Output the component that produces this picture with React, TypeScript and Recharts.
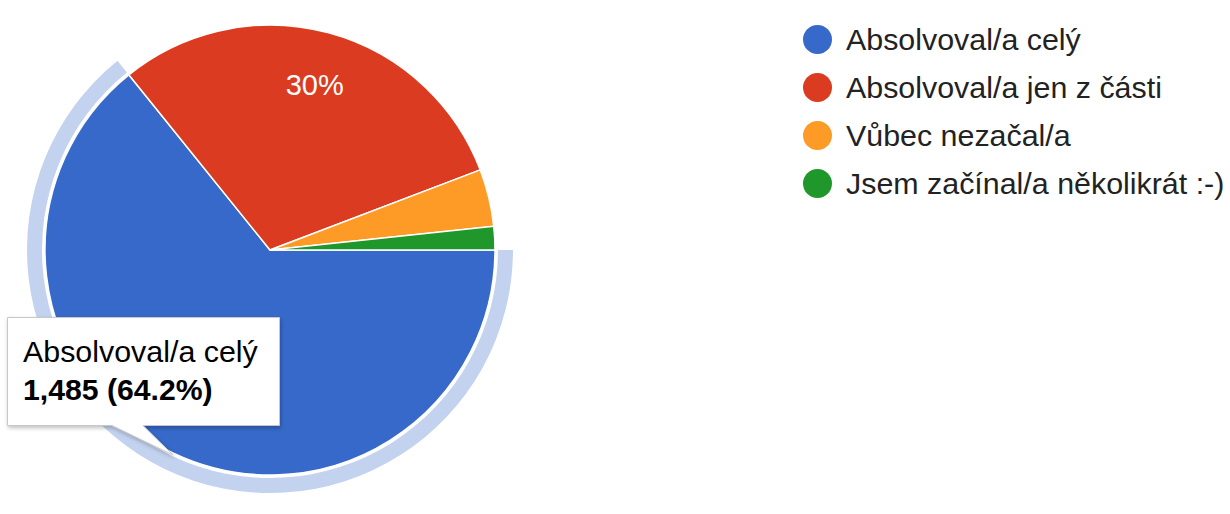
import { Cell, Legend, Pie, PieChart } from "recharts";

const categories = [
  "Absolvoval/a celý",
  "Absolvoval/a jen z části",
  "Vůbec nezačal/a",
  "Jsem začínal/a několikrát :-)",
];
const counts = [1485, 694, 95, 39];
const colors = ["#3669c9", "#db3b20", "#fe9a26", "#1f972a"];
const HIGHLIGHT = "#c3d2ef";
const FONT = "Arial, 'Liberation Sans', Helvetica, sans-serif";

const total = counts.reduce((a, b) => a + b, 0);
const data = categories.map((name, i) => ({ name, value: counts[i] }));

const fmtPct = (p: number) => {
  const s = (p * 100).toFixed(1);
  return (s.endsWith(".0") ? s.slice(0, -2) : s) + "%";
};

const RADIAN = Math.PI / 180;

// the hovered slice (index 0) has its label hidden by the tooltip
function SliceLabel(props: any) {
  const { cx, cy, midAngle, outerRadius, percent, index } = props;
  if (percent < 0.05 || index === 0) return null;
  const r = outerRadius * 0.76;
  const x = cx + r * Math.cos(-midAngle * RADIAN);
  const y = cy + r * Math.sin(-midAngle * RADIAN);
  return (
    <text x={x} y={y + 10.5} fill="#fff" textAnchor="middle" fontSize={29} fontFamily={FONT}>
      {fmtPct(percent)}
    </text>
  );
}

function LegendList({ payload }: any) {
  const seen = new Set<string>();
  const items = (payload || [])
    .filter((p: any) => {
      if (seen.has(p.value) || p.color === "none" || p.color === HIGHLIGHT) return false;
      seen.add(p.value);
      return true;
    })
    .sort((a: any, b: any) => categories.indexOf(a.value) - categories.indexOf(b.value));
  return (
    <div style={{ fontFamily: FONT }}>
      {items.map((p: any) => (
        <div key={p.value} style={{ display: "flex", alignItems: "center", height: 48 }}>
          <span
            style={{
              width: 29,
              height: 29,
              borderRadius: "50%",
              background: p.color,
              marginRight: 14,
              flexShrink: 0,
            }}
          />
          <span style={{ fontSize: 30.4, color: "#222", whiteSpace: "nowrap" }}>{p.value}</span>
        </div>
      ))}
    </div>
  );
}

function HoverTip() {
  const pct = ((counts[0] / total) * 100).toFixed(1);
  return (
    <svg
      width={300}
      height={470}
      style={{ position: "absolute", left: 0, top: 0, pointerEvents: "none", overflow: "visible" }}
    >
      <defs>
        <filter id="tipShadow" x="-10%" y="-10%" width="130%" height="140%">
          <feDropShadow dx="1" dy="2" stdDeviation="2" floodColor="#000" floodOpacity="0.25" />
        </filter>
      </defs>
      <path
        d="M7.5,317.5 H279.5 V425.5 H143 L173,455 L112,425.5 H7.5 Z"
        fill="#fff"
        stroke="#c8c8c8"
        strokeWidth={1}
        filter="url(#tipShadow)"
      />
      <text x={23} y={362} fontSize={30.4} fontFamily={FONT} fill="#000">
        {categories[0]}
      </text>
      <text x={23} y={400} fontSize={30.2} fontFamily={FONT} fontWeight="bold" fill="#000">
        {counts[0].toLocaleString("en-US")} ({pct}%)
      </text>
    </svg>
  );
}

export default function App() {
  return (
    <div style={{ position: "absolute", left: 0, top: 0, width: 1230, height: 514, background: "#fff" }}>
      <PieChart width={1230} height={514} margin={{ top: 0, right: 0, bottom: 0, left: 0 }}>
        <Pie
          data={data}
          dataKey="value"
          nameKey="name"
          cx={270}
          cy={250}
          outerRadius={225}
          startAngle={0}
          endAngle={-360}
          stroke="#fff"
          strokeWidth={1.5}
          labelLine={false}
          label={SliceLabel}
          isAnimationActive={false}
        >
          {data.map((d, i) => (
            <Cell key={d.name} fill={colors[i]} />
          ))}
        </Pie>
        <Pie
          data={data}
          dataKey="value"
          nameKey="name"
          cx={270}
          cy={250}
          innerRadius={228}
          outerRadius={243}
          startAngle={0}
          endAngle={-360}
          stroke="none"
          legendType="none"
          label={false}
          isAnimationActive={false}
        >
          {data.map((d, i) => (
            <Cell key={d.name} fill={i === 0 ? HIGHLIGHT : "none"} stroke="none" />
          ))}
        </Pie>
        <Legend
          layout="vertical"
          align="right"
          verticalAlign="top"
          itemSorter={null as any}
          content={<LegendList />}
          wrapperStyle={{ left: 803, top: 15, width: 427 }}
        />
      </PieChart>
      <HoverTip />
    </div>
  );
}
